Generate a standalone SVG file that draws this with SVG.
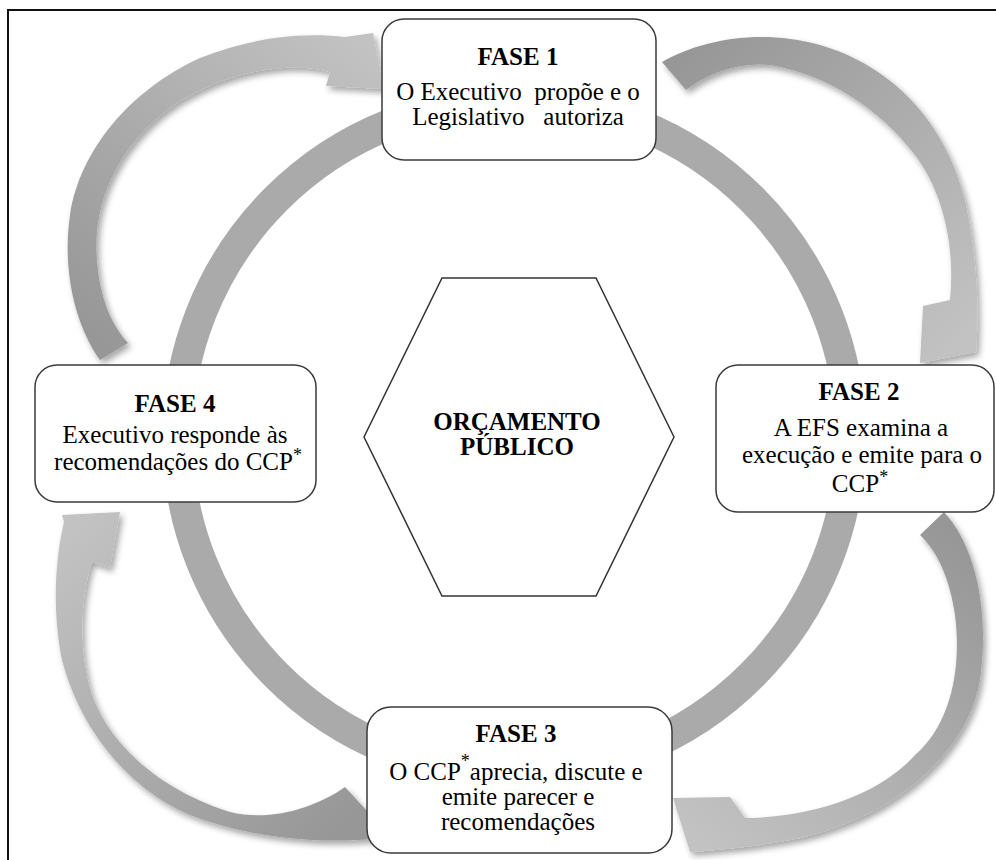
<svg xmlns="http://www.w3.org/2000/svg" width="996" height="860" viewBox="0 0 996 860">
<style>
.box{fill:#fff;stroke:#3a3a3a;stroke-width:1.5}
.hd{font-family:"Liberation Serif","Times New Roman",serif;font-weight:bold;font-size:25px;fill:#000;text-anchor:middle}
.bd{font-family:"Liberation Serif","Times New Roman",serif;font-size:25px;fill:#000;text-anchor:middle}
.ast{font-family:"Liberation Serif","Times New Roman",serif;font-size:18px;fill:#000}
.arr{filter:url(#sh)}
</style>
<defs>
<filter id="sh" x="-20%" y="-20%" width="140%" height="140%">
<feDropShadow dx="3" dy="4" stdDeviation="3" flood-color="#000" flood-opacity="0.35"/>
</filter>
<linearGradient id="g1" gradientUnits="userSpaceOnUse" x1="110" y1="350" x2="370" y2="50">
<stop offset="0" stop-color="#979797"/><stop offset="1" stop-color="#c2c2c2"/>
</linearGradient>
<linearGradient id="g2" gradientUnits="userSpaceOnUse" x1="670" y1="70" x2="950" y2="350">
<stop offset="0" stop-color="#979797"/><stop offset="1" stop-color="#c2c2c2"/>
</linearGradient>
<linearGradient id="g3" gradientUnits="userSpaceOnUse" x1="935" y1="520" x2="690" y2="830">
<stop offset="0" stop-color="#979797"/><stop offset="1" stop-color="#c2c2c2"/>
</linearGradient>
<linearGradient id="g4" gradientUnits="userSpaceOnUse" x1="360" y1="810" x2="85" y2="520">
<stop offset="0" stop-color="#979797"/><stop offset="1" stop-color="#c2c2c2"/>
</linearGradient>
</defs>
<rect width="996" height="860" fill="#fff"/>
<rect x="8" y="10" width="1000" height="900" fill="none" stroke="#111" stroke-width="2"/>
<g id="connectors">
<circle cx="514" cy="437" r="336.5" fill="none" stroke="#aaaaaa" stroke-width="31"/>
<path class="arr" fill="url(#g1)" d="M100,360 C75,325 62,270 70,215 C80,150 130,90 200,58 C250,38 300,32 345,37 L373,33 L384,89 L326,86 L330,72 C290,60 220,72 170,108 C120,145 92,200 97,260 C100,300 112,325 128,343 Z"/>
<path class="arr" fill="url(#g2)" d="M662,62 C700,40 760,28 820,45 C890,65 945,120 965,200 C975,245 980,300 976,352 L920,363 L923,306 L950,300 C955,250 945,195 915,155 C880,110 830,75 770,65 C740,62 710,72 686,90 Z"/>
<path class="arr" fill="url(#g3)" d="M944,512 C975,545 990,610 980,680 C968,750 900,815 800,838 C760,846 720,850 690,852 L673,798 L730,797 L745,818 C800,818 875,800 915,755 C950,725 962,670 955,615 C950,580 938,552 920,535 Z"/>
<path class="arr" fill="url(#g4)" d="M345,787 L380,825 L380,838 C320,845 250,838 190,815 C130,790 80,730 62,660 C52,610 55,560 64,522 L62,515 L120,512 L110,568 L92,562 C80,600 78,650 92,695 C110,745 160,790 230,812 C270,822 315,808 345,787 Z"/>
</g>
<g id="center">
<polygon points="442,278 596,278 674,437 596,596 442,596 364,437" fill="#fff" stroke="#333" stroke-width="1.5"/>
<text class="hd" x="517" y="430">ORÇAMENTO</text>
<text class="hd" x="517" y="455">PÚBLICO</text>
</g>
<g id="fase1">
<rect class="box" x="382" y="19" width="274" height="141" rx="22"/>
<text class="hd" x="518" y="65">FASE 1</text>
<text class="bd" x="518" y="100" xml:space="preserve">O Executivo  propõe e o</text>
<text class="bd" x="518" y="125" xml:space="preserve">Legislativo   autoriza</text>
</g>
<g id="fase2">
<rect class="box" x="716" y="365" width="278" height="147" rx="22"/>
<text class="hd" x="859" y="400">FASE 2</text>
<text class="bd" x="861" y="436">A EFS examina a</text>
<text class="bd" x="862" y="463">execução e emite para o</text>
<text class="bd" x="860" y="492">CCP<tspan class="ast" dy="-9">*</tspan></text>
</g>
<g id="fase3">
<rect class="box" x="367" y="707" width="305" height="146" rx="24"/>
<text class="hd" x="516" y="742">FASE 3</text>
<text class="bd" x="516" y="780">O CCP<tspan class="ast" dy="-13">*</tspan><tspan dy="13">aprecia, discute e</tspan></text>
<text class="bd" x="518" y="805">emite parecer e</text>
<text class="bd" x="518" y="830">recomendações</text>
</g>
<g id="fase4">
<rect class="box" x="35" y="365" width="281" height="137" rx="22"/>
<text class="hd" x="175" y="412">FASE 4</text>
<text class="bd" x="175" y="443">Executivo responde às</text>
<text class="bd" x="178" y="470">recomendações do CCP<tspan class="ast" dy="-9">*</tspan></text>
</g>
</svg>
